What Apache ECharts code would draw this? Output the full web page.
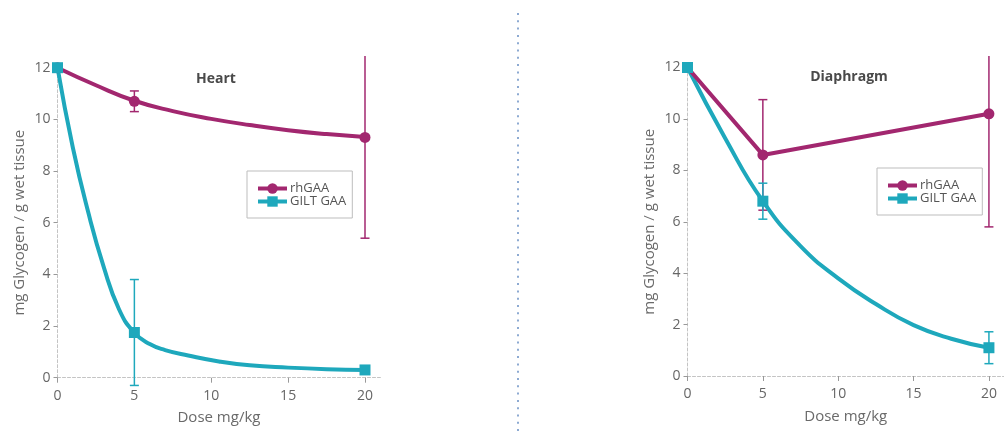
<!DOCTYPE html>
<html>
<head>
<meta charset="utf-8">
<script src="https://cdn.jsdelivr.net/npm/echarts@6/dist/echarts.min.js"></script>
<style>
  html, body { margin: 0; padding: 0; background: #fff; }
  #chart { width: 1004px; height: 434px; }
</style>
</head>
<body>
<div id="chart"></div>
<script>
// Glycogen (mg / g wet tissue) after rhGAA or GILT GAA dosing, mean and SD
const doses = [0, 5, 20];
const panelTitles = ['Heart', 'Diaphragm'];
const seriesNames = ['rhGAA', 'GILT GAA'];
const xTickValues = [0, 5, 10, 15, 20];

const heartRhGAA = [12, 10.7, 9.3];
const heartRhGAASd = [0, 0.4, 3.9];
const heartGILT = [12, 1.75, 0.3];
const heartGILTSd = [0, 2.05, 0];

const diaRhGAA = [12, 8.6, 10.2];
const diaRhGAASd = [0, 2.15, 4.4];
const diaGILT = [12, 6.8, 1.1];
const diaGILTSd = [0, 0.7, 0.62];

// fitted dose-response curves, [dose, glycogen]
const heartRhGAAFit = [[0, 12], [2.5, 11.32], [5, 10.72], [7.5, 10.32], [10, 10.02],
  [12.5, 9.78], [15, 9.58], [17.5, 9.43], [20, 9.32]];
const heartGILTFit = [[0, 12], [1, 8.9], [2, 6.4], [3, 4.3], [4, 2.65], [5, 1.74], [6, 1.3],
  [7, 1.07], [8.5, 0.86], [10.5, 0.63], [12.5, 0.48], [15, 0.39], [17.5, 0.33], [20, 0.3]];
const diaGILTFit = [[0, 12], [2.5, 9.25], [5, 6.8], [7.5, 5.05], [10, 3.8],
  [12.5, 2.8], [15, 1.98], [17.5, 1.45], [20, 1.1]];

const MAGENTA = '#a2276f';
const TEAL = '#1ea8bc';
const FONT = 'Open Sans';
const PLOT_TOP = 12.45;   // error bars are cut at the top of the plotting area

const pts = (vals) => doses.map((d, i) => [d, vals[i]]);

function errorBars(idx, vals, sds, color) {
  return {
    type: 'custom',
    xAxisIndex: idx, yAxisIndex: idx,
    silent: true, z: 3,
    encode: { x: 0, y: 1 },
    data: doses.map((d, i) => [d, vals[i], sds[i]]).filter(r => r[2] > 0),
    renderItem(params, api) {
      const x = api.value(0), m = api.value(1), s = api.value(2);
      const hi = Math.min(m + s, PLOT_TOP);
      const pLo = api.coord([x, m - s]);
      const pHi = api.coord([x, hi]);
      const half = 4.5;
      const st = { stroke: color, lineWidth: 1.5 };
      const kids = [
        { type: 'line', shape: { x1: pLo[0], y1: pLo[1], x2: pHi[0], y2: pHi[1] }, style: st },
        { type: 'line', shape: { x1: pLo[0] - half, y1: pLo[1], x2: pLo[0] + half, y2: pLo[1] }, style: st }
      ];
      if (m + s <= PLOT_TOP) {
        kids.push({ type: 'line', shape: { x1: pHi[0] - half, y1: pHi[1], x2: pHi[0] + half, y2: pHi[1] }, style: st });
      }
      return { type: 'group', children: kids };
    }
  };
}

function curve(idx, name, data, color, symbol) {
  return {
    type: 'line', name, xAxisIndex: idx, yAxisIndex: idx,
    data, smooth: 0.5, symbol, showSymbol: false, symbolSize: 10,
    lineStyle: { color, width: 4 }, itemStyle: { color },
    z: 4, silent: true
  };
}

function markers(idx, name, data, color, symbol, size, showLine) {
  return {
    type: 'line', name, xAxisIndex: idx, yAxisIndex: idx,
    data, symbol, symbolSize: size, showSymbol: true,
    lineStyle: showLine ? { color, width: 4 } : { width: 0, opacity: 0 },
    itemStyle: { color, borderWidth: 0 },
    z: 5, silent: true
  };
}

const axisLineStyle = { color: '#c4c4c4', width: 1, type: [3, 2] };
const labelStyle = { color: '#666', fontFamily: FONT, fontSize: 14 };
const nameStyle = { color: '#6a6a6a', fontFamily: FONT, fontSize: 15 };

function xAxis(idx) {
  return {
    type: 'value', gridIndex: idx, min: 0, max: 21,
    name: 'Dose mg/kg', nameLocation: 'middle', nameGap: 33, nameTextStyle: nameStyle,
    axisLine: { show: true, lineStyle: axisLineStyle },
    axisTick: { show: true, length: 5, lineStyle: { color: '#999' }, customValues: xTickValues },
    axisLabel: Object.assign({ margin: 11, customValues: xTickValues }, labelStyle),
    splitLine: { show: false }
  };
}

function yAxis(idx) {
  return {
    type: 'value', gridIndex: idx, min: 0, max: 12, interval: 2,
    name: 'mg Glycogen / g wet tissue', nameLocation: 'middle', nameGap: 30,
    nameTextStyle: nameStyle,
    axisLine: { show: true, lineStyle: axisLineStyle },
    axisTick: { show: true, length: 4, lineStyle: { color: '#999' } },
    axisLabel: Object.assign({ margin: 7 }, labelStyle),
    splitLine: { show: false }
  };
}

function legend(left, top) {
  return {
    left, top, orient: 'vertical',
    data: seriesNames,
    itemWidth: 29, itemHeight: 13, itemGap: 0,
    padding: [11, 6, 10, 9],
    borderColor: '#bdbdbd', borderWidth: 1,
    lineStyle: { width: 4 },
    textStyle: { color: '#555', fontFamily: FONT, fontSize: 13, padding: [0, 0, 0, -2] },
    selectedMode: false
  };
}

const chart = echarts.init(document.getElementById('chart'), null, { renderer: 'canvas' });
chart.setOption({
  animation: false,
  backgroundColor: '#fff',
  title: [
    { text: panelTitles[0], left: 216, top: 72, textAlign: 'center', padding: 0,
      textStyle: { color: '#4a4a4a', fontFamily: FONT, fontSize: 14, fontWeight: 'bold' } },
    { text: panelTitles[1], left: 849, top: 70, textAlign: 'center', padding: 0,
      textStyle: { color: '#4a4a4a', fontFamily: FONT, fontSize: 14, fontWeight: 'bold' } }
  ],
  legend: [legend(247, 171), legend(877, 168)],
  grid: [
    { left: 57.5, top: 67.7, width: 21 * 15.375, height: 310 },
    { left: 687.5, top: 67.5, width: 21 * 15.475, height: 308.5 }
  ],
  xAxis: [xAxis(0), xAxis(1)],
  yAxis: [yAxis(0), yAxis(1)],
  series: [
    // Heart
    curve(0, seriesNames[0], heartRhGAAFit, MAGENTA, 'circle'),
    curve(0, seriesNames[1], heartGILTFit, TEAL, 'rect'),
    errorBars(0, heartRhGAA, heartRhGAASd, MAGENTA),
    errorBars(0, heartGILT, heartGILTSd, TEAL),
    markers(0, seriesNames[0], pts(heartRhGAA), MAGENTA, 'circle', 11, false),
    markers(0, seriesNames[1], pts(heartGILT), TEAL, 'rect', 11, false),
    // Diaphragm
    markers(1, seriesNames[0], pts(diaRhGAA), MAGENTA, 'circle', 11, true),
    curve(1, seriesNames[1], diaGILTFit, TEAL, 'rect'),
    errorBars(1, diaRhGAA, diaRhGAASd, MAGENTA),
    errorBars(1, diaGILT, diaGILTSd, TEAL),
    markers(1, seriesNames[1], pts(diaGILT), TEAL, 'rect', 11, false)
  ],
  graphic: [
    {
      type: 'line', silent: true,
      shape: { x1: 518, y1: 13, x2: 518, y2: 434 },
      style: { stroke: '#8daad2', lineWidth: 2, lineDash: [2, 5.3] }
    }
  ]
});
</script>
</body>
</html>
